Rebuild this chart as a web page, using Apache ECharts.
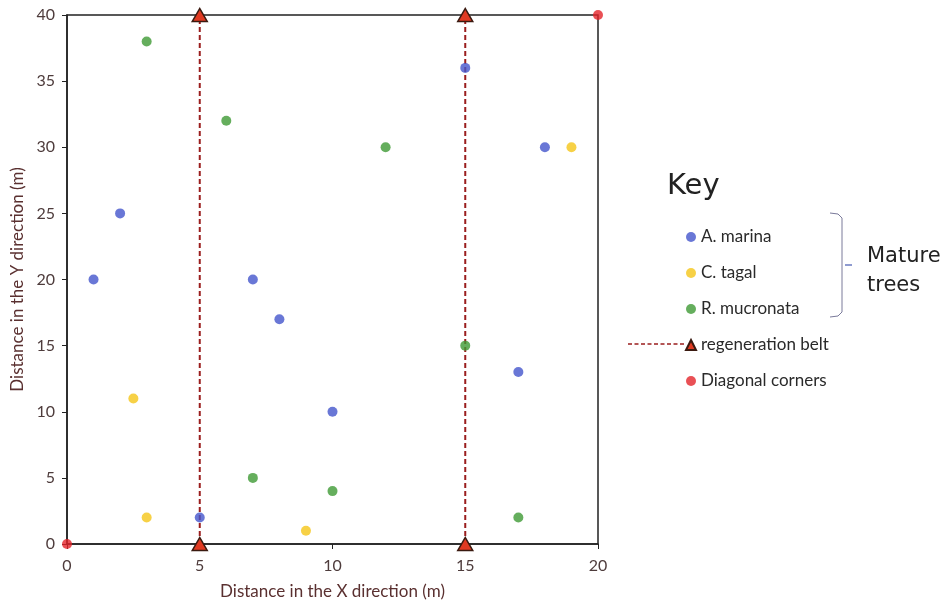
<!DOCTYPE html>
<html>
<head>
<meta charset="utf-8">
<script src="https://cdn.jsdelivr.net/npm/echarts@6/dist/echarts.min.js"></script>
<style>
html,body{margin:0;padding:0;background:#fff;}
#chart{width:948px;height:605px;}
</style>
</head>
<body>
<div id="chart"></div>
<script>
// ---- data ----
const aMarina = [[1,20],[2,25],[7,20],[8,17],[5,2],[10,10],[15,36],[17,13],[18,30]];
const cTagal = [[2.5,11],[3,2],[9,1],[19,30]];
const rMucronata = [[3,38],[6,32],[12,30],[7,5],[10,4],[15,15],[17,2]];
const beltX = [5, 15];
const beltY = [0, 40];
const corners = [[0,0],[20,40]];
const xTicks = [0,5,10,15,20];
const yTicks = [0,5,10,15,20,25,30,35,40];

const chart = echarts.init(document.getElementById('chart'));
const labelColor = '#4e3c3c';
const font = 'Lato, "Open Sans", sans-serif';

const beltSeries = beltX.map(x => ({
  name: 'regeneration belt',
  type: 'line',
  data: beltY.map(y => [x, y]),
  symbol: 'triangle',
  symbolSize: [15, 13],
  lineStyle: {color: '#9a1e1e', width: 2, type: [5, 3]},
  itemStyle: {color: '#e03a22', borderColor: '#3a1a10', borderWidth: 1.5},
  z: 3
}));

function scatter(name, data, color){
  return {name, type:'scatter', data, symbol:'circle', symbolSize:10,
    itemStyle:{color}, z:5};
}

chart.setOption({
  animation: false,
  backgroundColor: '#fff',
  grid: {left: 67, top: 15, width: 531, height: 529, show: true,
    borderColor: '#222', borderWidth: 1.5, backgroundColor: 'transparent'},
  xAxis: {
    type: 'value', min: xTicks[0], max: xTicks[xTicks.length-1], interval: 5,
    name: 'Distance in the X direction (m)', nameLocation: 'middle', nameGap: 39,
    nameTextStyle: {color: '#5a3030', fontSize: 17, fontFamily: font},
    axisLine: {lineStyle: {color: '#222', width: 1.5}},
    axisTick: {inside: false, length: 5, lineStyle: {color: '#222'}},
    axisLabel: {color: labelColor, fontSize: 16, margin: 14, fontFamily: font},
    splitLine: {show: false}
  },
  yAxis: {
    type: 'value', min: yTicks[0], max: yTicks[yTicks.length-1], interval: 5,
    name: 'Distance in the Y direction (m)', nameLocation: 'middle', nameGap: 38,
    nameTextStyle: {color: '#5a3030', fontSize: 17, fontFamily: font},
    axisLine: {lineStyle: {color: '#222', width: 1.5}},
    axisTick: {inside: false, length: 5, lineStyle: {color: '#222'}},
    axisLabel: {color: labelColor, fontSize: 16, margin: 12, fontFamily: font},
    splitLine: {show: false}
  },
  legend: {
    orient: 'vertical', left: 680, top: 223,
    itemWidth: 10, itemHeight: 10, itemGap: 18,
    textStyle: {color: '#2a2a2a', fontSize: 17, fontFamily: font, lineHeight: 18},
    data: [
      {name:'A. marina', icon:'circle'},
      {name:'C. tagal', icon:'circle'},
      {name:'R. mucronata', icon:'circle'},
      {name:'regeneration belt', icon:'triangle'},
      {name:'Diagonal corners', icon:'circle'}
    ]
  },
  graphic: [
    {type:'text', left: 667, top: 172, style:{text:'Key', font:'29px "DejaVu Sans", sans-serif', fill:'#222'}},
    {type:'text', left: 867, top: 242, style:{text:'Mature\ntrees', font:'21px "DejaVu Sans", sans-serif', fill:'#222', lineHeight: 29}},
    {type:'polyline', shape:{points:[[830,213],[838,214],[842,218],[842,312],[838,316],[830,317]]}, style:{stroke:'#7a7a9a', lineWidth:1, fill:null}},
    {type:'line', shape:{x1:845,y1:265,x2:852,y2:265}, style:{stroke:'#6a7ac0', lineWidth:1.5}},
    {type:'line', shape:{x1:628,y1:344,x2:685,y2:344}, style:{stroke:'#9a1e1e', lineWidth:1.5, lineDash:[4,2.5]}}
  ],
  series: [
    scatter('A. marina', aMarina, '#4455cc'),
    scatter('C. tagal', cTagal, '#f5c518'),
    scatter('R. mucronata', rMucronata, '#3f9a35'),
    ...beltSeries,
    scatter('Diagonal corners', corners, '#e3242b')
  ]
});
</script>
</body>
</html>
